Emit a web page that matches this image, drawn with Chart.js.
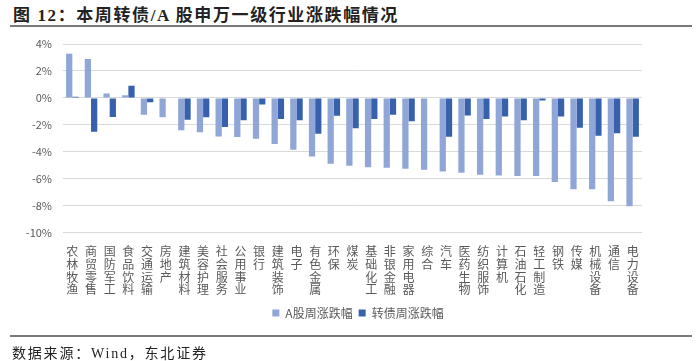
<!DOCTYPE html>
<html>
<head>
<meta charset="utf-8">
<script src="https://cdn.jsdelivr.net/npm/chart.js@4.4.1/dist/chart.umd.min.js"></script>
<style>
  body { margin: 0; width: 700px; height: 361px; position: relative; background: #fff; overflow: hidden; }
  #title { position: absolute; left: 13px; top: 1px; font: bold 17px "Liberation Serif", "Noto Sans CJK SC"; letter-spacing: 1.6px; color: #222; white-space: nowrap; }
  .rule { position: absolute; left: 10px; width: 682px; height: 2px; background: #7a7a7a; }
  #src { position: absolute; left: 12px; top: 342px; font: 14px "Liberation Serif", "Noto Sans CJK SC"; letter-spacing: 1.8px; color: #222; white-space: nowrap; }
  #c { position: absolute; left: 0; top: 0; }
</style>
</head>
<body>
<div id="title">图 12：本周转债/A 股申万一级行业涨跌幅情况</div>
<div class="rule" style="top:25px"></div>
<canvas id="c" width="700" height="361"></canvas>
<div class="rule" style="top:335px"></div>
<div id="src">数据来源：Wind，东北证券</div>
<script>
// 行业分类
const categories = ['农林牧渔','商贸零售','国防军工','食品饮料','交通运输','房地产','建筑材料','美容护理','社会服务','公用事业',
  '银行','建筑装饰','电子','有色金属','环保','煤炭','基础化工','非银金融','家用电器','综合',
  '汽车','医药生物','纺织服饰','计算机','石油石化','轻工制造','钢铁','传媒','机械设备','通信','电力设备'];

// A股周涨跌幅 (%)
const aShare = [3.28, 2.89, 0.32, 0.20, -1.26, -1.43, -2.40, -2.55, -2.87, -2.90,
  -3.04, -3.43, -3.85, -4.35, -4.89, -5.04, -5.14, -5.19, -5.26, -5.33,
  -5.46, -5.56, -5.70, -5.76, -5.80, -5.80, -6.25, -6.79, -6.79, -7.68, -8.05];

// 转债周涨跌幅 (%)
const cbond = [0.08, -2.52, -1.41, 0.91, -0.32, 0, -1.63, -1.43, -2.17, -1.66,
  -0.50, -1.56, -1.66, -2.67, -1.33, -2.25, -1.56, -1.26, -1.73, 0,
  -2.89, -1.31, -1.56, -1.38, -1.66, -0.20, -1.38, -2.22, -2.81, -2.62, -2.89];

const yMin = -10, yMax = 4, yStep = 2;

const grey = '#595959';
const sans = '"Noto Sans CJK SC", "Liberation Sans", sans-serif';

// 图例整体右移，和原图位置对齐
const legendShift = {
  id: 'legendShift',
  afterLayout(chart) {
    chart.legend.left += 37;
    chart.legend.right += 37;
  }
};

new Chart(document.getElementById('c'), {
  type: 'bar',
  data: {
    labels: categories.map(c => c.split('')),
    datasets: [
      { label: 'A股周涨跌幅', data: aShare, backgroundColor: '#8fa6d7' },
      { label: '转债周涨跌幅', data: cbond, backgroundColor: '#3761ad' }
    ]
  },
  options: {
    responsive: false,
    animation: false,
    layout: { padding: { top: 44, right: 58, left: 0, bottom: 32 } },
    datasets: { bar: { categoryPercentage: 0.67, barPercentage: 1 } },
    plugins: {
      legend: {
        position: 'bottom',
        labels: { color: grey, boxWidth: 7, boxHeight: 7, padding: 6, font: { family: sans, size: 12 } }
      },
      tooltip: { enabled: false }
    },
    scales: {
      x: {
        grid: { display: false },
        border: { display: false },
        ticks: { color: grey, maxRotation: 0, autoSkip: false, padding: 5, font: { family: sans, size: 12, lineHeight: 1.05 } }
      },
      y: {
        min: yMin, max: yMax,
        afterFit: s => { s.width = 63; },
        grid: { color: '#d9d9d9', drawTicks: false },
        border: { display: false },
        ticks: { stepSize: yStep, color: grey, padding: 11, font: { family: sans, size: 11 }, callback: v => v + '%' }
      }
    }
  },
  plugins: [legendShift]
});
</script>
</body>
</html>
